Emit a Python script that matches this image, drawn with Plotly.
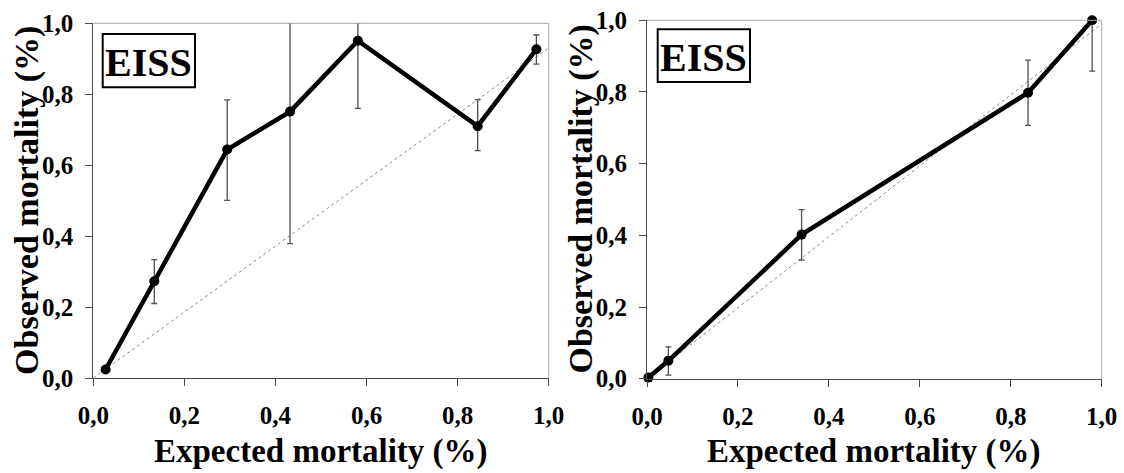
import plotly.graph_objects as go

W, H = 1124, 473

# Left panel: expected vs observed mortality with confidence limits
left_expected = [0.027, 0.134, 0.294, 0.432, 0.581, 0.844, 0.973]
left_observed = [0.024, 0.273, 0.644, 0.751, 0.951, 0.710, 0.927]
left_upper = [0.024, 0.334, 0.784, 1.000, 1.000, 0.785, 0.967]
left_lower = [0.024, 0.210, 0.501, 0.379, 0.760, 0.641, 0.885]
left_ref_x = [0.0, 1.0]
left_ref_y = [0.0, 0.93]

# Right panel
right_expected = [0.003, 0.047, 0.340, 0.838, 0.979]
right_observed = [0.003, 0.050, 0.402, 0.798, 1.000]
right_upper = [0.003, 0.089, 0.472, 0.889, 1.000]
right_lower = [0.003, 0.010, 0.331, 0.707, 0.858]
right_ref_x = [0.0, 1.0]
right_ref_y = [0.0, 0.99]

tick_vals = [0.0, 0.2, 0.4, 0.6, 0.8, 1.0]
tick_text = ["0,0", "0,2", "0,4", "0,6", "0,8", "1,0"]
panel_label = "EISS"
x_title = "Expected mortality (%)"
y_title = "Observed mortality (%)"

SERIF = "Liberation Serif, Times New Roman, serif"

# plot areas in pixels: (left, right, top, bottom)
panels = [
    (93.3, 548.7, 23.3, 378.0),
    (647.0, 1101.7, 20.3, 378.7),
]

fig = go.Figure()


def add_panel(idx, ex, ob, up, lo, rx, ry):
    xa = "x" if idx == 0 else "x2"
    ya = "y" if idx == 0 else "y2"
    # reference line
    fig.add_trace(go.Scatter(
        x=rx, y=ry, mode="lines", xaxis=xa, yaxis=ya,
        line=dict(color="#8a8a8a", width=1, dash="dot"),
        hoverinfo="skip", showlegend=False))
    fig.add_trace(go.Scatter(
        x=ex, y=ob, mode="lines+markers", xaxis=xa, yaxis=ya,
        line=dict(color="#000000", width=4.5),
        marker=dict(color="#000000", size=10),
        error_y=dict(type="data", symmetric=False,
                     array=[u - o for u, o in zip(up, ob)],
                     arrayminus=[o - l for o, l in zip(ob, lo)],
                     color="#505050", thickness=1.3, width=3),
        cliponaxis=False, showlegend=False))


add_panel(0, left_expected, left_observed, left_upper, left_lower,
          left_ref_x, left_ref_y)
add_panel(1, right_expected, right_observed, right_upper, right_lower,
          right_ref_x, right_ref_y)

axis_common = dict(
    range=[0, 1], tickvals=tick_vals, ticktext=tick_text,
    showgrid=False, zeroline=False, showline=True,
    linecolor="#4a4a4a", linewidth=1,
    ticks="outside", ticklen=7, tickcolor="#4a4a4a", tickwidth=1,
    tickfont=dict(family=SERIF, size=25, color="#000000", weight="bold"),
    automargin=False, fixedrange=True,
)

layout = dict(
    width=W, height=H,
    margin=dict(l=0, r=0, t=0, b=0, autoexpand=False),
    paper_bgcolor="white", plot_bgcolor="white",
    showlegend=False,
    shapes=[], annotations=[],
)

for i, (pl, pr, pt, pb) in enumerate(panels):
    sx = "" if i == 0 else "2"
    layout["xaxis" + sx] = dict(
        axis_common, domain=[pl / W, pr / W], anchor="y" + sx,
        ticklabelstandoff=8)
    layout["yaxis" + sx] = dict(
        axis_common, domain=[1 - pb / H, 1 - pt / H], anchor="x" + sx,
        ticklabelstandoff=7)
    # light frame on top and right
    layout["shapes"].append(dict(
        type="line", xref="x" + sx + " domain", yref="y" + sx + " domain",
        x0=0, x1=1, y0=1, y1=1, line=dict(color="#a8a8a8", width=1)))
    layout["shapes"].append(dict(
        type="line", xref="x" + sx + " domain", yref="y" + sx + " domain",
        x0=1, x1=1, y0=0, y1=1, line=dict(color="#a8a8a8", width=1)))

    # framed panel label
    box = [(102.7, 195.0, 34.0, 87.3), (657.7, 750.0, 29.3, 82.0)][i]
    bx0 = (box[0] - pl) / (pr - pl)
    bx1 = (box[1] - pl) / (pr - pl)
    by0 = (pb - box[3]) / (pb - pt)
    by1 = (pb - box[2]) / (pb - pt)
    layout["shapes"].append(dict(
        type="rect", xref="x" + sx + " domain", yref="y" + sx + " domain",
        x0=bx0, x1=bx1, y0=by0, y1=by1,
        line=dict(color="#000000", width=2), fillcolor="white"))
    layout["annotations"].append(dict(
        text=panel_label, xref="x" + sx + " domain",
        yref="y" + sx + " domain",
        x=(bx0 + bx1) / 2, y=(by0 + by1) / 2 - 0.004,
        xanchor="center", yanchor="middle", showarrow=False,
        font=dict(family=SERIF, size=40, color="#000000", weight="bold")))

    # axis titles
    layout["annotations"].append(dict(
        text=x_title, xref="paper", yref="paper",
        x=(pl + pr) / 2 / W, y=1 - 451 / H,
        xanchor="center", yanchor="middle", showarrow=False,
        font=dict(family=SERIF, size=33, color="#000000", weight="bold")))
    layout["annotations"].append(dict(
        text=y_title, xref="paper", yref="paper",
        x=(pl - 67) / W, y=1 - (pt + pb) / 2 / H,
        xanchor="center", yanchor="middle", textangle=-90,
        showarrow=False,
        font=dict(family=SERIF, size=34, color="#000000", weight="bold")))

fig.update_layout(**layout)
fig.write_html("out.html")
